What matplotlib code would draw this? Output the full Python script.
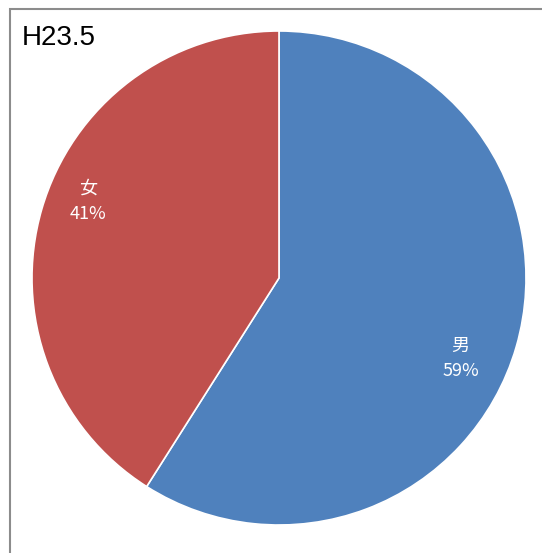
import matplotlib
matplotlib.use("Agg")
import matplotlib.pyplot as plt
from matplotlib.patches import Rectangle

# data
labels = ["男", "女"]
values = [59, 41]
colors = ["#4F81BD", "#C0504D"]
title = "H23.5"

W, H = 542, 553
fig = plt.figure(figsize=(W / 100, H / 100), dpi=100)

# chart frame (only top and left edges are visible in the crop)
fig.patches.append(Rectangle((9.5 / W, -0.1), 2.0, 1 - 9.5 / H + 0.1,
                             transform=fig.transFigure, fill=False,
                             edgecolor="#8c8c8c", linewidth=1.5))

ax = fig.add_axes([32 / W, 1 - 525 / H, 494 / W, 494 / H])

wedges, texts = ax.pie(values, colors=colors, startangle=90, counterclock=False,
                       wedgeprops=dict(edgecolor="white", linewidth=1.2),
                       labels=None)
ax.set_aspect("equal")
ax.set_xlim(-1, 1)
ax.set_ylim(-1, 1)

# data labels
label_pos = [(0.735, -0.325), (-0.775, 0.31)]
for name, v, (x, y) in zip(labels, values, label_pos):
    ax.text(x, y, "%s\n%d%%" % (name, v), ha="center", va="center",
            color="white", fontsize=13, linespacing=1.55,
            family=["Noto Sans CJK JP", "DejaVu Sans"])

fig.text(22 / W, 1 - 38 / H, title, fontsize=20, family="Liberation Sans",
         ha="left", va="center", color="black")

fig.savefig("out.png", dpi=100)
